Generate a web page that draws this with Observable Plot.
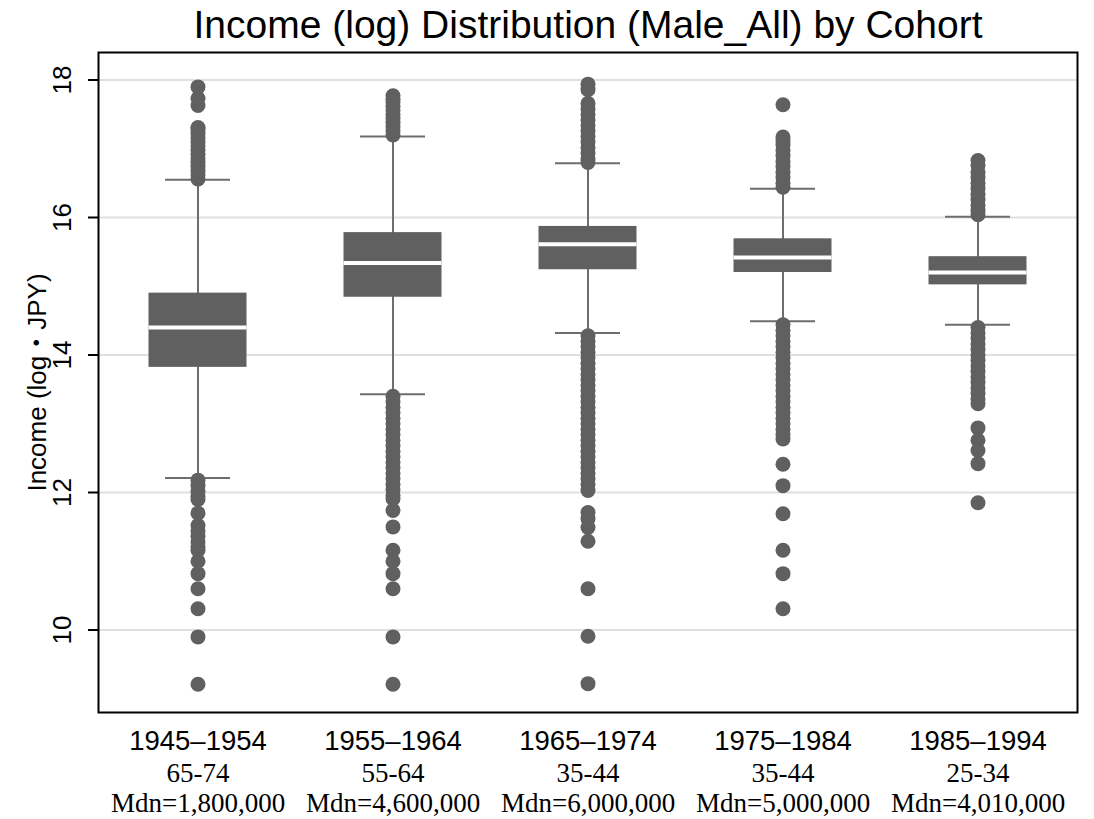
<!DOCTYPE html>
<html>
<head>
<meta charset="utf-8">
<script src="https://cdn.jsdelivr.net/npm/d3@7"></script>
<script src="https://cdn.jsdelivr.net/npm/@observablehq/plot@0.6"></script>
<style>
  html, body { margin: 0; padding: 0; background: #fff; }
  #chart { width: 1094px; height: 819px; }
</style>
</head>
<body>
<div id="chart"></div>
<script>
// ---- data ----
const cohorts = ["1945–1954", "1955–1964", "1965–1974", "1975–1984", "1985–1994"];
const ageGroups = ["65-74", "55-64", "35-44", "35-44", "25-34"];
const medianLabels = ["Mdn=1,800,000", "Mdn=4,600,000", "Mdn=6,000,000", "Mdn=5,000,000", "Mdn=4,010,000"];

const q1 = [13.82, 14.84, 15.24, 15.20, 15.02];
const medians = [14.40, 15.34, 15.61, 15.42, 15.20];
const q3 = [14.90, 15.78, 15.87, 15.69, 15.43];
const whiskerLow = [12.21, 13.43, 14.32, 14.49, 14.44];
const whiskerHigh = [16.55, 17.18, 16.79, 16.42, 16.01];

const outliers1945 = [16.56, 16.62, 16.68, 16.74, 16.80, 16.86, 16.92, 16.98, 17.04, 17.10, 17.16, 17.22, 17.28, 17.31, 17.63, 17.73, 17.90,
  12.18, 12.10, 12.02, 11.94, 11.90, 11.70, 11.52, 11.44, 11.36, 11.28, 11.20, 11.16, 11.00, 10.82, 10.60, 10.31, 9.90, 9.21];
const outliers1955 = [17.20, 17.26, 17.32, 17.38, 17.44, 17.50, 17.56, 17.62, 17.68, 17.72, 17.77,
  13.40, 13.32, 13.24, 13.16, 13.08, 13.00, 12.92, 12.84, 12.76, 12.68, 12.60, 12.52, 12.44, 12.36, 12.28, 12.20, 12.12, 12.04, 11.96, 11.91,
  11.74, 11.50, 11.16, 11.00, 10.82, 10.60, 9.90, 9.21];
const outliers1965 = [16.80, 16.86, 16.94, 17.02, 17.10, 17.18, 17.26, 17.34, 17.42, 17.50, 17.58, 17.66, 17.86, 17.94,
  14.28, 14.20, 14.12, 14.04, 13.96, 13.88, 13.80, 13.72, 13.64, 13.56, 13.48, 13.40, 13.32, 13.24, 13.16, 13.08, 13.00, 12.92,
  12.84, 12.76, 12.68, 12.60, 12.52, 12.44, 12.36, 12.28, 12.20, 12.12, 12.03, 11.71, 11.62, 11.49, 11.29, 10.60, 9.91, 9.22];
const outliers1975 = [16.44, 16.50, 16.58, 16.66, 16.74, 16.82, 16.90, 16.98, 17.06, 17.12, 17.17, 17.64,
  14.44, 14.36, 14.28, 14.20, 14.12, 14.04, 13.96, 13.88, 13.80, 13.72, 13.64, 13.56, 13.48, 13.40, 13.32, 13.24, 13.16, 13.08,
  13.00, 12.92, 12.84, 12.78, 12.41, 12.10, 11.69, 11.16, 10.82, 10.31];
const outliers1985 = [16.04, 16.10, 16.18, 16.26, 16.34, 16.42, 16.50, 16.58, 16.66, 16.76, 16.83,
  14.40, 14.32, 14.24, 14.16, 14.08, 14.00, 13.92, 13.84, 13.76, 13.68, 13.60, 13.52, 13.44, 13.36, 13.29,
  12.94, 12.76, 12.61, 12.42, 11.85];

const yTicks = [10, 12, 14, 16, 18];
const titleText = "Income (log) Distribution (Male_All) by Cohort";
const yLabel = "Income (log・JPY)";

// ---- tables built from the arrays ----
const boxes = cohorts.map((c, i) => ({
  cohort: c, q1: q1[i], median: medians[i], q3: q3[i], lo: whiskerLow[i], hi: whiskerHigh[i]
}));
const outlierLists = [outliers1945, outliers1955, outliers1965, outliers1975, outliers1985];
const outlierPoints = outlierLists.flatMap((arr, i) => arr.map(v => ({cohort: cohorts[i], value: v})));

const sans = "'Liberation Sans', Arial, Helvetica, sans-serif";
const serif = "'Liberation Serif', 'Times New Roman', serif";
const grey = "#606060";

const chart = Plot.plot({
  width: 1094,
  height: 819,
  marginTop: 52,
  marginLeft: 98,
  marginRight: 17,
  marginBottom: 107,
  style: {fontFamily: sans, background: "#fff", color: "#000", overflow: "visible"},
  x: {type: "band", domain: cohorts, padding: 0, axis: null},
  y: {domain: [8.8, 18.4], axis: null},
  marks: [
    Plot.ruleY(yTicks, {stroke: "#e0e0e0", strokeWidth: 2}),
    Plot.axisY(yTicks, {tickSize: 10, tickFormat: () => "", strokeWidth: 2, stroke: "#000", label: null}),
    Plot.text(yTicks, {y: d => d, frameAnchor: "left", dx: -36, rotate: -90, fontSize: 26, fill: "#000",
      textAnchor: "middle", lineAnchor: "middle", text: d => String(d)}),
    Plot.text([yLabel], {frameAnchor: "left", dx: -61, rotate: -90, fontSize: 26, fill: "#000",
      textAnchor: "middle", lineAnchor: "middle",
      fontFamily: "'Liberation Sans', Arial, 'Noto Sans CJK JP', sans-serif"}),
    Plot.ruleX(boxes, {x: "cohort", y1: "lo", y2: "hi", stroke: "#6e6e6e", strokeWidth: 2}),
    Plot.tickY(boxes, {x: "cohort", y: "lo", stroke: "#6e6e6e", strokeWidth: 2, insetLeft: 65, insetRight: 65}),
    Plot.tickY(boxes, {x: "cohort", y: "hi", stroke: "#6e6e6e", strokeWidth: 2, insetLeft: 65, insetRight: 65}),
    Plot.barY(boxes, {x: "cohort", y1: "q1", y2: "q3", fill: grey, insetLeft: 48.5, insetRight: 48.5}),
    Plot.tickY(boxes, {x: "cohort", y: "median", stroke: "#fff", strokeWidth: 4, insetLeft: 48.5, insetRight: 48.5}),
    Plot.dot(outlierPoints, {x: "cohort", y: "value", r: 7.5, fill: grey, stroke: "none"}),
    Plot.frame({stroke: "#000", strokeWidth: 2}),
    Plot.text(cohorts, {x: d => d, frameAnchor: "bottom", dy: 29, lineAnchor: "middle", fontSize: 27.5, fill: "#000", text: d => d}),
    Plot.text(cohorts, {x: d => d, frameAnchor: "bottom", dy: 60.5, lineAnchor: "middle", fontSize: 27, fill: "#000", fontFamily: serif,
      text: (d, i) => ageGroups[i]}),
    Plot.text(cohorts, {x: d => d, frameAnchor: "bottom", dy: 90.5, lineAnchor: "middle", fontSize: 27, fill: "#000", fontFamily: serif,
      text: (d, i) => medianLabels[i]}),
    Plot.text([titleText], {frameAnchor: "top", dy: -27, lineAnchor: "middle", fontSize: 39, fill: "#000"})
  ]
});
document.getElementById("chart").appendChild(chart);
</script>
</body>
</html>
